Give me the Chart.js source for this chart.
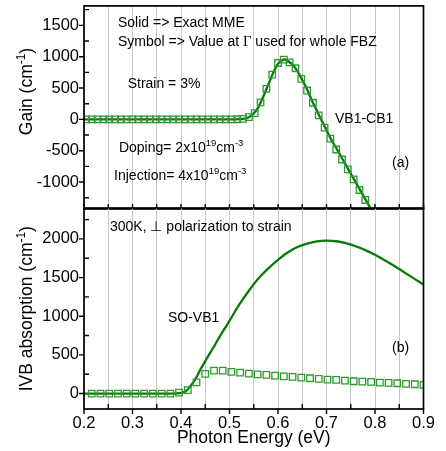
<!DOCTYPE html>
<html>
<head>
<meta charset="utf-8">
<script src="https://cdn.jsdelivr.net/npm/chart.js@4.4.1/dist/chart.umd.min.js"></script>
<style>
  body { margin: 0; background: #fff; }
  #wrap { position: relative; width: 446px; height: 451px; }
  canvas { position: absolute; left: 0; top: 0; }
</style>
</head>
<body>
<div id="wrap">
  <canvas id="gain" width="446" height="451"></canvas>
  <canvas id="ivb" width="446" height="451"></canvas>
</div>
<script>
// axes
const energyGrid = [0.2, 0.25, 0.3, 0.35, 0.4, 0.45, 0.5, 0.55, 0.6, 0.65, 0.7, 0.75, 0.8, 0.85, 0.9]
const energyLabels = [0.2, 0.3, 0.4, 0.5, 0.6, 0.7, 0.8, 0.9]
const gainTicks = [-1000, -500, 0, 500, 1000, 1500]
const gainMinor = [-1250, -750, -250, 250, 750, 1250, 1750]
const ivbTicks = [0, 500, 1000, 1500, 2000]
const ivbMinor = [250, 750, 1250, 1750, 2250]

// (a) VB1-CB1 gain, exact MME (solid)
const gainExactE = [0.2, 0.3, 0.4, 0.5, 0.52, 0.53, 0.54, 0.55, 0.56, 0.57, 0.58, 0.59, 0.6, 0.61, 0.615,
  0.62, 0.63, 0.64, 0.65, 0.66, 0.67, 0.68, 0.69, 0.7, 0.71, 0.72, 0.73, 0.74, 0.75, 0.76, 0.77, 0.78, 0.79, 0.8]
const gainExact = [0, 0, 0, 0, 3, 10, 35, 95, 200, 370, 555, 740, 885, 950, 955,
  935, 870, 770, 630, 478, 300, 140, -20, -175, -325, -457, -593, -729, -865, -1001, -1137, -1273, -1409, -1545]

// (a) Gamma-point value used for the whole FBZ (symbols)
const gainGammaE = [0.204, 0.216, 0.228, 0.24, 0.252, 0.264, 0.276, 0.288, 0.3, 0.312, 0.324, 0.336, 0.348,
  0.36, 0.372, 0.384, 0.396, 0.408, 0.42, 0.432, 0.444, 0.456, 0.468, 0.48, 0.492, 0.504, 0.516, 0.528,
  0.54, 0.552, 0.564, 0.576, 0.588, 0.6, 0.612, 0.624, 0.636, 0.648, 0.66, 0.672, 0.684, 0.696, 0.708,
  0.72, 0.732, 0.744, 0.756, 0.768, 0.78]
const gainGamma = [0, 0, 0, 0, 0, 0, 0, 0, 0, 0, 0, 0, 0,
  0, 0, 0, 0, 0, 0, 0, 0, 0, 0, 0, 0, 0, 2, 8,
  37, 101, 270, 487, 714, 899, 952, 910, 815, 646, 460, 265, 63, -132, -307,
  -481, -640, -799, -957, -1127, -1286]

// (b) SO-VB1 absorption, exact MME (solid)
const ivbExactE = [0.2, 0.3, 0.38, 0.4, 0.41, 0.42, 0.43, 0.44, 0.45, 0.46, 0.47, 0.48, 0.49, 0.5, 0.52,
  0.54, 0.56, 0.58, 0.6, 0.62, 0.64, 0.66, 0.68, 0.7, 0.72, 0.74, 0.76, 0.78, 0.8, 0.82, 0.84, 0.86, 0.88, 0.9]
const ivbExact = [0, 0, 0, 8, 30, 100, 190, 310, 420, 525, 630, 740, 840, 940, 1150,
  1330, 1490, 1620, 1730, 1825, 1895, 1940, 1968, 1978, 1970, 1945, 1905, 1855, 1795, 1725, 1650, 1570, 1490, 1410]

// (b) Gamma-point value used for the whole FBZ (symbols)
const ivbGammaE = [0.216, 0.234, 0.252, 0.27, 0.288, 0.306, 0.324, 0.342, 0.36, 0.378, 0.396, 0.414, 0.432,
  0.45, 0.468, 0.486, 0.504, 0.522, 0.54, 0.558, 0.576, 0.594, 0.612, 0.63, 0.648, 0.666, 0.684, 0.702,
  0.72, 0.738, 0.756, 0.774, 0.792, 0.81, 0.828, 0.846, 0.864, 0.882, 0.9]
const ivbGamma = [0, 0, 0, 0, 0, 0, 0, 0, 0, 0, 12, 45, 145,
  255, 297, 297, 280, 271, 258, 249, 241, 232, 223, 215, 206, 198, 189, 181,
  176, 168, 159, 155, 151, 142, 138, 133, 125, 120, 112]

const FONT = '"Liberation Sans", Arial, sans-serif'
const LINE_GREEN = '#0a7b0a'
const SYMBOL_GREEN = '#2e9a2e'

const pairs = (xs, ys) => xs.map((x, i) => ({ x, y: ys[i] }))

// text with superscripts: strings are plain, {sup} raised, {serif} in serif face
function drawRich(ctx, parts, x, y, size) {
  let cx = x
  for (const p of parts) {
    let t = p, px = size, dy = 0, fam = FONT
    if (typeof p === 'object') {
      if (p.sup !== undefined) { t = p.sup; px = size * 0.68; dy = -size * 0.42 }
      else { t = p.serif; fam = '"Liberation Serif", serif'; px = size * 1.05 }
    }
    ctx.font = `${px}px ${fam}`
    ctx.fillText(t, cx, y + dy)
    cx += ctx.measureText(t).width
  }
  return cx - x
}

function richWidth(ctx, parts, size) {
  ctx.save()
  ctx.globalAlpha = 0
  const w = drawRich(ctx, parts, 0, 0, size)
  ctx.restore()
  return w
}

const panelPlugin = {
  id: 'panel',
  afterDatasetsDraw(chart, args, opts) {
    const { ctx, chartArea: a, scales: { x, y } } = chart
    ctx.save()
    ctx.strokeStyle = '#000'
    ctx.lineWidth = 1.7
    ctx.strokeRect(a.left, a.top, a.right - a.left, a.bottom - a.top)

    ctx.lineWidth = 1.4
    ctx.beginPath()
    const seg = (x1, y1, x2, y2) => { ctx.moveTo(x1, y1); ctx.lineTo(x2, y2) }
    opts.yMajor.forEach(v => { const p = y.getPixelForValue(v); seg(a.left - 5, p, a.left, p) })
    opts.yMinor.forEach(v => {
      const p = y.getPixelForValue(v)
      if (p > a.top && p < a.bottom) seg(a.left, p, a.left + 5, p)
    })
    opts.xOut.forEach(v => { const p = x.getPixelForValue(v); seg(p, a.bottom, p, a.bottom + 5) })
    opts.xIn.forEach(v => { const p = x.getPixelForValue(v); seg(p, a.bottom - 5, p, a.bottom) })
    ctx.stroke()

    ctx.fillStyle = '#000'
    ctx.textBaseline = 'alphabetic'
    ctx.textAlign = 'left'
    opts.notes.forEach(n => {
      drawRich(ctx, n.parts, x.getPixelForValue(n.x), y.getPixelForValue(n.y) + 14 * 0.36, 14)
    })

    // rotated axis title
    const t = opts.title
    const size = 17.5
    const w = richWidth(ctx, t.parts, size)
    ctx.translate(y.left + 26, y.getPixelForValue(t.y))
    ctx.rotate(-Math.PI / 2)
    drawRich(ctx, t.parts, -w / 2, size * 0.36, size)
    ctx.restore()
  }
}

function xScale(bottom) {
  return {
    type: 'linear', min: 0.2, max: 0.9,
    afterBuildTicks: s => { s.ticks = energyGrid.map(v => ({ value: v })) },
    afterFit: s => { s.height = bottom ? 42 : 0 },
    grid: { color: '#c8c8c8', lineWidth: 1, drawTicks: false },
    border: { display: false },
    ticks: {
      display: bottom, autoSkip: false, maxRotation: 0, padding: 5, color: '#000',
      font: { family: FONT, size: 16.5 },
      callback: v => energyLabels.some(e => Math.abs(e - v) < 1e-6) ? v.toFixed(1) : ''
    },
    title: {
      display: bottom, text: 'Photon Energy (eV)', color: '#000',
      font: { family: FONT, size: 17.5 }, padding: { top: 0, bottom: 2 }
    }
  }
}

function yScale(min, max, majors) {
  return {
    type: 'linear', min, max,
    afterBuildTicks: s => { s.ticks = majors.map(v => ({ value: v })) },
    afterFit: s => {
      // fixed axis width; labels never sit at the ends, so no edge padding
      s.width = 84
      s.paddingTop = 0
      s.paddingBottom = 0
    },
    grid: { display: false, drawTicks: false },
    border: { display: false },
    ticks: { padding: 5, color: '#000', font: { family: FONT, size: 16.5 }, callback: v => String(v) }
  }
}

function datasets(lineE, lineV, symE, symV) {
  return [
    {
      data: pairs(symE, symV), showLine: false,
      pointStyle: 'rect', pointRadius: 4.6, pointBorderWidth: 1.3,
      pointBorderColor: SYMBOL_GREEN, pointBackgroundColor: 'rgba(0,0,0,0)'
    },
    {
      data: pairs(lineE, lineV), borderColor: LINE_GREEN, borderWidth: 2.3,
      pointRadius: 0, cubicInterpolationMode: 'monotone'
    }
  ]
}

const common = {
  responsive: false,
  animation: false,
  plugins: { legend: { display: false }, tooltip: { enabled: false } }
}

new Chart(document.getElementById('gain'), {
  type: 'line',
  data: { datasets: datasets(gainExactE, gainExact, gainGammaE, gainGamma) },
  plugins: [panelPlugin],
  options: {
    ...common,
    layout: { padding: { left: 0, right: 22.5, top: 5, bottom: 242 } },
    scales: { x: xScale(false), y: yScale(-1430, 1810, gainTicks) },
    plugins: {
      ...common.plugins,
      panel: {
        yMajor: gainTicks, yMinor: gainMinor, xOut: [], xIn: energyGrid,
        title: { y: 444, parts: ['Gain (cm', { sup: '-1' }, ')'] },
        notes: [
          { x: 0.27, y: 1555, parts: ['Solid => Exact MME'] },
          { x: 0.27, y: 1254, parts: ['Symbol => Value at ', { serif: 'Γ' }, ' used for whole FBZ'] },
          { x: 0.29, y: 587, parts: ['Strain = 3%'] },
          { x: 0.7175, y: 16, parts: ['VB1-CB1'] },
          { x: 0.272, y: -444, parts: ['Doping= 2x10', { sup: '19' }, 'cm', { sup: '-3' }] },
          { x: 0.262, y: -889, parts: ['Injection= 4x10', { sup: '19' }, 'cm', { sup: '-3' }] },
          { x: 0.835, y: -682, parts: ['(a)'] }
        ]
      }
    }
  }
})

new Chart(document.getElementById('ivb'), {
  type: 'line',
  data: { datasets: datasets(ivbExactE, ivbExact, ivbGammaE, ivbGamma) },
  plugins: [panelPlugin],
  options: {
    ...common,
    layout: { padding: { left: 0, right: 22.5, top: 208, bottom: 0 } },
    scales: { x: xScale(true), y: yScale(-200, 2400, ivbTicks) },
    plugins: {
      ...common.plugins,
      panel: {
        yMajor: ivbTicks, yMinor: ivbMinor, xOut: energyLabels,
        xIn: energyGrid.filter(v => !energyLabels.some(e => Math.abs(e - v) < 1e-6)),
        title: { y: 1097, parts: ['IVB absorption (cm', { sup: '-1' }, ')'] },
        notes: [
          { x: 0.2536, y: 2167, parts: ['300K, \u22a5 polarization to strain'] },
          { x: 0.373, y: 993, parts: ['SO-VB1'] },
          { x: 0.835, y: 606, parts: ['(b)'] }
        ]
      }
    }
  }
})
</script>
</body>
</html>
